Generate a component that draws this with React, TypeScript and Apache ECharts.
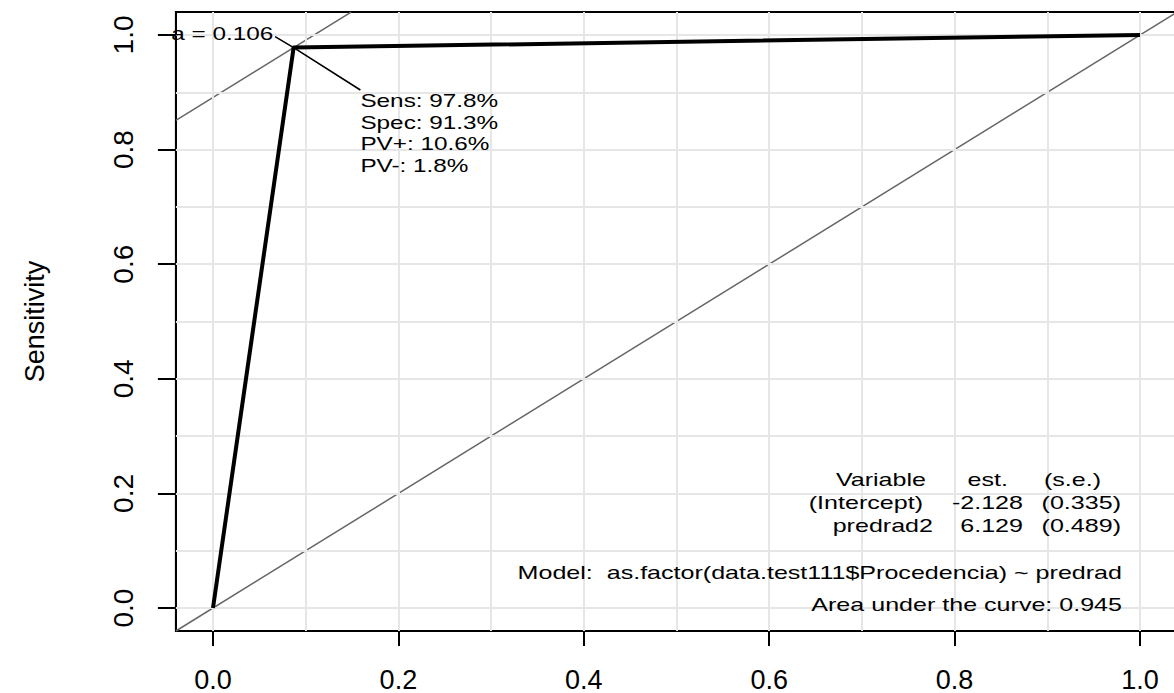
import React, { useEffect, useRef } from "react";
import * as echarts from "echarts";

// ---- data ----
const xTicks = [0, 0.2, 0.4, 0.6, 0.8, 1.0];
const yTicks = [0, 0.2, 0.4, 0.6, 0.8, 1.0];
const gridValues = [0, 0.1, 0.2, 0.3, 0.4, 0.5, 0.6, 0.7, 0.8, 0.9, 1.0];
const rocFpr = [0, 0.087, 1];
const rocSens = [0, 0.978, 1];
const optFpr = 0.087;
const optSens = 0.978;
const axisMin = -0.04;
const axisMax = 1.04;
const cutLabel = "a = 0.106";
const statLabels = ["Sens: 97.8%", "Spec: 91.3%", "PV+: 10.6%", "PV-: 1.8%"];
const tableHeader = ["Variable", "est.", "(s.e.)"];
const tableRows = [
  ["(Intercept)", "-2.128", "(0.335)"],
  ["predrad2", "6.129", "(0.489)"],
];
const modelLabel = "Model:  as.factor(data.test111$Procedencia) ~ predrad";
const aucLabel = "Area under the curve: 0.945";

const FONT = "'Liberation Sans', Arial, Helvetica, sans-serif";
const TEXT_SIZE = 19;
const STRETCH = 1.28;
const STRETCH_TABLE = 1.32;

export default function App() {
  const ref = useRef<HTMLDivElement>(null);

  useEffect(() => {
    if (!ref.current) return;
    document.documentElement.style.overflow = "hidden";
    document.body.style.overflow = "hidden";
    const chart = echarts.init(ref.current, null, { renderer: "svg" });

    const diag = [
      [axisMin, axisMin],
      [axisMax, axisMax],
    ];
    const icpt = optSens - optFpr;
    const tangent = [
      [axisMin, axisMin + icpt],
      [axisMax - icpt, axisMax],
    ];
    const leader = [
      [0.067, 0.997],
      [optFpr, optSens],
      [0.159, 0.904],
    ];

    const option: any = {
      animation: false,
      backgroundColor: "#ffffff",
      textStyle: { fontFamily: FONT },
      grid: {
        left: 175.9,
        top: 12.04,
        width: 1001.2,
        height: 620,
        show: true,
        borderColor: "#000",
        borderWidth: 2,
        backgroundColor: "transparent",
      },
      xAxis: {
        type: "value",
        min: axisMin,
        max: axisMax,
        axisLine: { show: true, onZero: false, lineStyle: { color: "#000", width: 2 } },
        splitLine: { show: false },
        axisTick: {
          show: true,
          inside: false,
          customValues: xTicks,
          length: 15,
          lineStyle: { color: "#000", width: 2 },
        },
        axisLabel: {
          customValues: xTicks,
          formatter: (v: number) => v.toFixed(1),
          fontSize: 27,
          color: "#000",
          fontFamily: FONT,
          margin: 35,
        },
      },
      yAxis: {
        type: "value",
        min: axisMin,
        max: axisMax,
        name: "Sensitivity",
        nameLocation: "middle",
        nameRotate: 90,
        nameGap: 127,
        nameTextStyle: { fontSize: 27, color: "#000", fontFamily: FONT },
        axisLine: { show: true, onZero: false, lineStyle: { color: "#000", width: 2 } },
        splitLine: { show: false },
        axisTick: {
          show: true,
          inside: false,
          customValues: yTicks,
          length: 18,
          lineStyle: { color: "#000", width: 2 },
        },
        axisLabel: {
          customValues: yTicks,
          formatter: (v: number) => v.toFixed(1),
          rotate: 90,
          fontSize: 28,
          color: "#000",
          fontFamily: FONT,
          margin: 38,
        },
      },
      series: [
        {
          type: "line",
          name: "grid",
          data: [],
          silent: true,
          z: 0,
          markLine: {
            silent: true,
            symbol: ["none", "none"],
            label: { show: false },
            lineStyle: { color: "#e6e6e6", width: 2, type: "solid" },
            data: [
              ...gridValues.map((v) => ({ xAxis: v })),
              ...gridValues.map((v) => ({ yAxis: v })),
            ],
          },
        },
        {
          type: "line",
          name: "diagonal",
          data: diag,
          showSymbol: false,
          clip: true,
          z: 4,
          lineStyle: { color: "#666666", width: 1.5 },
        },
        {
          type: "line",
          name: "tangent",
          data: tangent,
          showSymbol: false,
          clip: true,
          z: 4,
          lineStyle: { color: "#666666", width: 1.5 },
        },
        {
          type: "line",
          name: "ROC",
          data: rocFpr.map((x, i) => [x, rocSens[i]]),
          showSymbol: false,
          clip: true,
          z: 6,
          lineStyle: { color: "#000", width: 4, join: "round" },
        },
        {
          type: "line",
          name: "leader",
          data: leader,
          showSymbol: false,
          clip: true,
          z: 6,
          lineStyle: { color: "#000", width: 1.6 },
        },
      ],
    };
    chart.setOption(option);

    const px = (x: number, y: number) =>
      chart.convertToPixel({ gridIndex: 0 }, [x, y]) as number[];

    const txt = (text: string, x: number, y: number, align: string, stretch = STRETCH) => ({
      type: "text",
      x,
      y,
      scaleX: stretch,
      z: 10,
      silent: true,
      style: {
        text,
        fill: "#000",
        fontSize: TEXT_SIZE,
        fontFamily: FONT,
        textAlign: align,
        align,
        textVerticalAlign: "middle",
        verticalAlign: "middle",
      },
    });

    const graphics: any[] = [];
    const aPos = px(0.065, 1.0);
    graphics.push(txt(cutLabel, aPos[0], aPos[1] - 1, "right"));
    const statY = [0.885, 0.848, 0.81, 0.772];
    statLabels.forEach((s, i) => {
      const p = px(0.159, statY[i]);
      graphics.push(txt(s, p[0], p[1], "left"));
    });

    const headerRight = [926, 1008, 1101];
    const rowRight = [
      [923, 1023, 1121],
      [933, 1023, 1121],
    ];
    const rowYs = [480, 503, 526];
    tableHeader.forEach((h, j) =>
      graphics.push(txt(h, headerRight[j], rowYs[0], "right", STRETCH_TABLE))
    );
    tableRows.forEach((r, i) =>
      r.forEach((c, j) =>
        graphics.push(txt(c, rowRight[i][j], rowYs[i + 1], "right", STRETCH_TABLE))
      )
    );
    graphics.push(txt(modelLabel, 1122, 573, "right", STRETCH_TABLE));
    graphics.push(txt(aucLabel, 1122, 605, "right", STRETCH_TABLE));

    chart.setOption({ graphic: graphics });

    return () => chart.dispose();
  }, []);

  return (
    <div
      ref={ref}
      style={{ position: "fixed", left: 0, top: 0, width: 1200, height: 693, background: "#fff" }}
    />
  );
}
